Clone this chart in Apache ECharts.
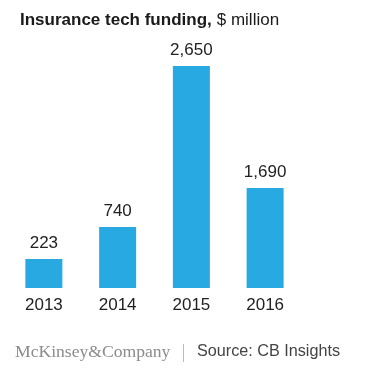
<!DOCTYPE html>
<html>
<head>
<meta charset="utf-8">
<script src="https://cdn.jsdelivr.net/npm/echarts@6/dist/echarts.min.js"></script>
<style>
  html, body { margin: 0; padding: 0; background: #fff; }
  #chart { width: 387px; height: 376px; }
</style>
</head>
<body>
<div id="chart"></div>
<script>
// 年份
const years = ['2013', '2014', '2015', '2016']
// 标注的数值（$ million）
const fundingLabels = [223, 740, 2650, 1690]
// 原图柱子并不按比例绘制，这里是从图上量出的柱高（以 2015 = 2650 为刻度）
const drawnHeights = [346, 728, 2650, 1194]

const chart = echarts.init(document.getElementById('chart'))

const fmt = v => v.toLocaleString('en-US')

const option = {
  animation: false,
  title: {
    left: 15,
    top: 6,
    text: '{b|Insurance tech funding,} {r|$ million}',
    textStyle: {
      rich: {
        b: { fontFamily: 'Liberation Sans', fontSize: 17, fontWeight: 'bold', color: '#1a1a1a' },
        r: { fontFamily: 'Liberation Sans', fontSize: 17, fontWeight: 'normal', color: '#1a1a1a' }
      }
    }
  },
  grid: {
    left: 7,
    right: 85,
    top: 66,
    bottom: 88
  },
  xAxis: {
    type: 'category',
    data: years,
    axisLine: { show: false },
    axisTick: { show: false },
    axisLabel: {
      margin: 9,
      fontFamily: 'Liberation Sans',
      fontSize: 17,
      color: '#222'
    }
  },
  yAxis: {
    type: 'value',
    min: 0,
    max: 2650,
    show: false,
    splitLine: { show: false }
  },
  series: [
    {
      type: 'bar',
      barWidth: 37,
      data: drawnHeights,
      itemStyle: { color: '#28a9e1' },
      label: {
        show: true,
        position: 'top',
        distance: 7,
        fontFamily: 'Liberation Sans',
        fontSize: 17,
        color: '#222',
        formatter: p => fmt(fundingLabels[p.dataIndex])
      }
    }
  ],
  graphic: [
    {
      type: 'text',
      left: 15,
      top: 343,
      style: {
        text: 'McKinsey&Company',
        font: '17.6px "Liberation Serif"',
        fill: '#8c8c8c'
      }
    },
    {
      type: 'rect',
      shape: { x: 183, y: 344, width: 1, height: 18 },
      style: { fill: '#bbbbbb' }
    },
    {
      type: 'text',
      left: 197,
      top: 344,
      style: {
        text: 'Source: CB Insights',
        font: '16.2px "Liberation Sans"',
        fill: '#444'
      }
    }
  ]
}

chart.setOption(option)
</script>
</body>
</html>
